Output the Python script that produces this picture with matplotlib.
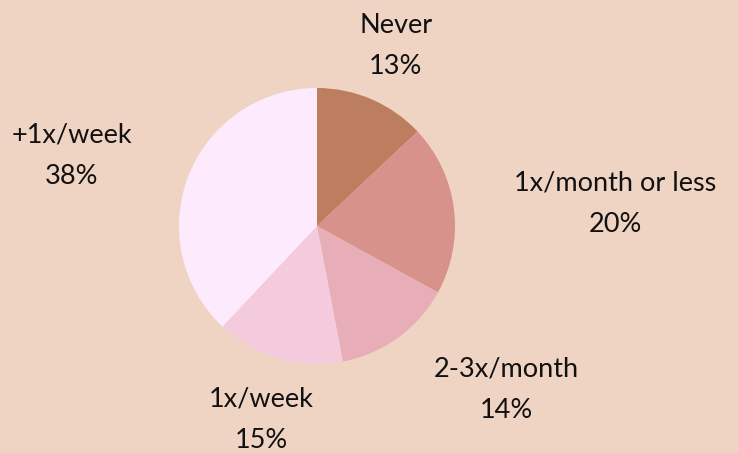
import numpy as np
import matplotlib.pyplot as plt

labels = ["Never", "1x/month or less", "2-3x/month", "1x/week", "+1x/week"]
shares = [13, 20, 14, 15, 38]
colors = ["#BC7E5E", "#D6928B", "#E8AEB8", "#F4CBDC", "#FDEBFD"]
bg = "#F0D4C3"

fig = plt.figure(figsize=(7.38, 4.53), dpi=100, facecolor=bg)
ax = fig.add_axes([0, 0, 1, 1])
ax.set_facecolor(bg)

wedges, _ = ax.pie(shares, colors=colors, startangle=90, counterclock=False,
                   radius=1.0, wedgeprops=dict(linewidth=0))

# pie center sits at px (317, 226) with radius 138 px
r_px = 138
ax.set_xlim(-317 / r_px, (738 - 317) / r_px)
ax.set_ylim(-(453 - 226) / r_px, 226 / r_px)
ax.set_aspect("equal")
ax.axis("off")

dist = 1.44
for w, lab, val in zip(wedges, labels, shares):
    ang = np.deg2rad((w.theta1 + w.theta2) / 2)
    x, y = dist * np.cos(ang), dist * np.sin(ang) - 0.02
    if abs(np.cos(ang)) < 0.45:
        ha = "center"
    elif x > 0:
        ha = "left"
    else:
        ha = "right"
    ax.text(x, y, f"{lab}\n{val}%", ha=ha, va="center", multialignment="center",
            fontsize=19.5, family="Lato", color="#111111", linespacing=1.8)

fig.savefig("out.png", dpi=100, facecolor=bg)
